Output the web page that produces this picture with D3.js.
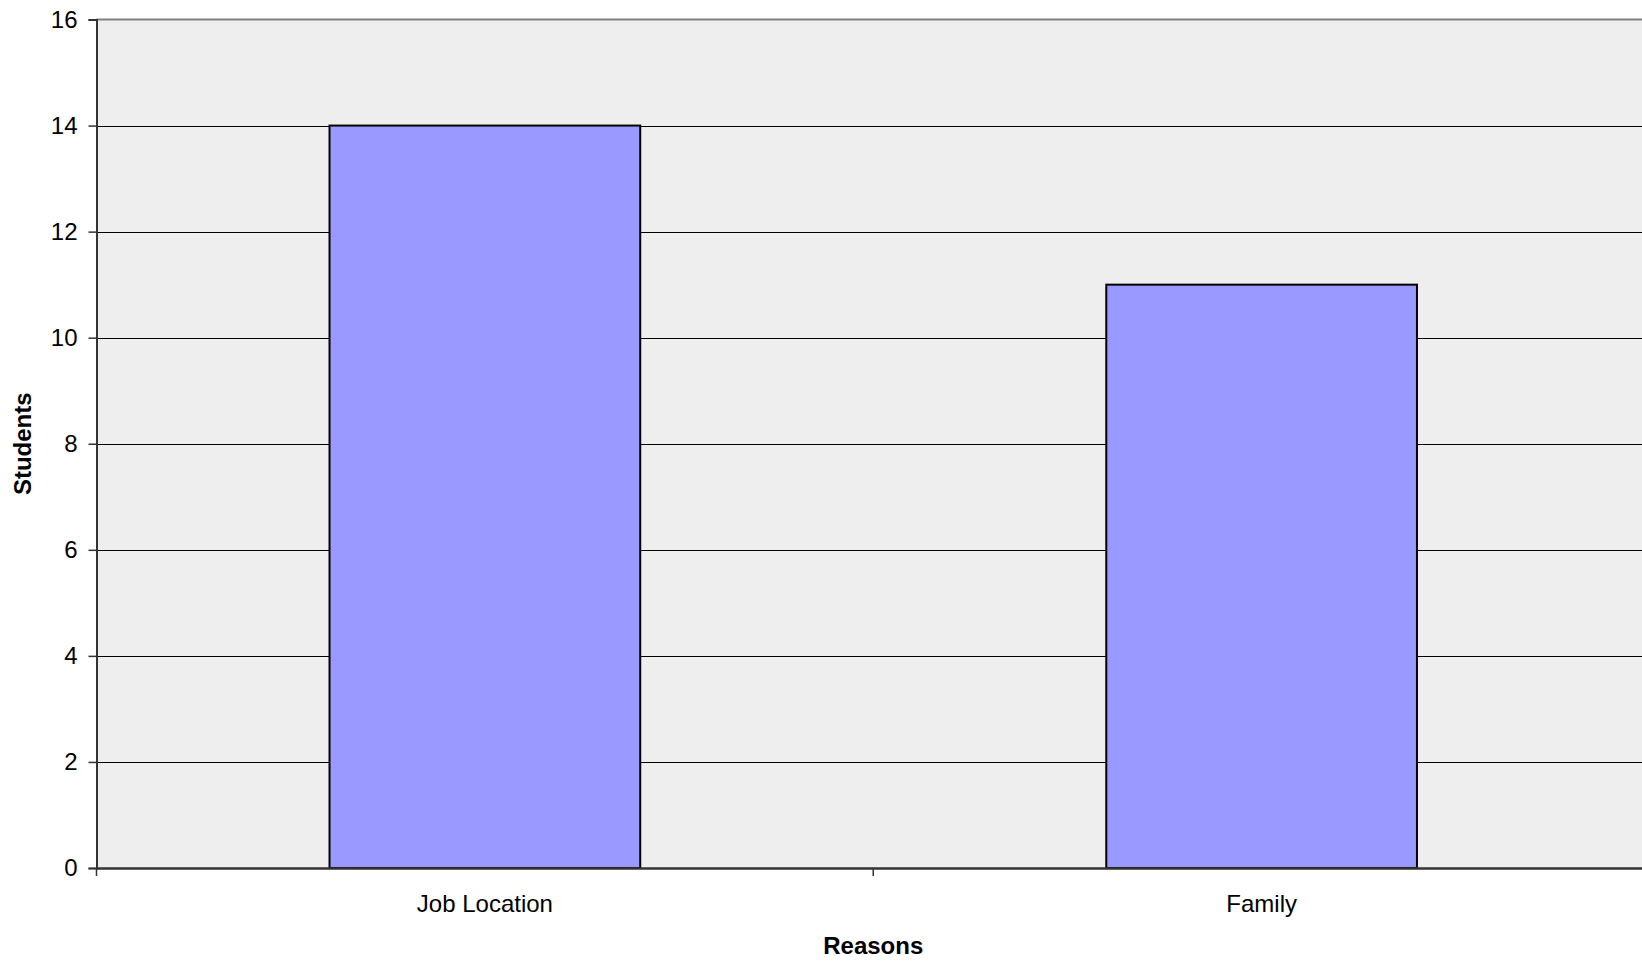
<!DOCTYPE html>
<html><head><meta charset="utf-8">
<script src="https://cdn.jsdelivr.net/npm/d3@7"></script>
<style>body{margin:0;background:#fff;overflow:hidden}text{font-family:"Liberation Sans",Arial,sans-serif;fill:#000}</style>
</head><body>
<svg id="c" width="1642" height="961"></svg>
<script>
const categories = ["Job Location", "Family"];
const values = [14, 11];
const yTicks = [0, 2, 4, 6, 8, 10, 12, 14, 16];
const xTitle = "Reasons";
const yTitle = "Students";

const svg = d3.select("#c");
const L = 96.5, R = 1650, T = 19.5, B = 868;
const x = d3.scaleBand().domain(categories).range([L, R]).paddingInner(0.6).paddingOuter(0.3);
const xb = d3.scaleBand().domain(categories).range([L, R]);
const y = d3.scaleLinear().domain([0, 16]).range([B, T]);

svg.append("rect").attr("x", L).attr("y", T).attr("width", R - L).attr("height", B - T).attr("fill", "#eeeeee");

// gridlines
svg.append("g").selectAll("line").data(yTicks.filter(d => d > 0 && d < 16)).join("line")
  .attr("x1", L).attr("x2", R).attr("y1", d => Math.round(y(d)) + 0.5).attr("y2", d => Math.round(y(d)) + 0.5)
  .attr("stroke", "#000").attr("stroke-width", 1);
// top border
svg.append("line").attr("x1", L).attr("x2", R).attr("y1", T).attr("y2", T).attr("stroke", "#808080").attr("stroke-width", 2);

// bars
svg.append("g").selectAll("rect").data(values).join("rect")
  .attr("x", (d, i) => x(categories[i])).attr("width", x.bandwidth())
  .attr("y", d => y(d)).attr("height", d => B - y(d))
  .attr("fill", "#9999ff").attr("stroke", "#000").attr("stroke-width", 2);

// y axis
const ya = svg.append("g").attr("transform", `translate(${L},0)`)
  .call(d3.axisLeft(y).tickValues(yTicks).tickSize(8).tickPadding(11).tickFormat(d3.format("d")));
ya.select(".domain").attr("stroke", "#333").attr("stroke-width", 2);
ya.selectAll(".tick line").attr("stroke", "#333").attr("stroke-width", 1.5);
ya.selectAll("text").style("font-size", "24px").style("font-family", "Liberation Sans, Arial, sans-serif").attr("fill", "#000");

// x axis
const xa = svg.append("g").attr("transform", `translate(0,${B})`)
  .call(d3.axisBottom(x).tickSize(0).tickPadding(27));
xa.select(".domain").attr("stroke", "#333").attr("stroke-width", 2.5);
xa.selectAll("text").style("font-size", "24px").style("font-family", "Liberation Sans, Arial, sans-serif").attr("fill", "#000");
// category separator ticks
const sepVals = [L].concat(categories.map(c => xb(c) + xb.bandwidth()));
svg.append("g").selectAll("line").data(sepVals).join("line")
  .attr("x1", d => d).attr("x2", d => d).attr("y1", B).attr("y2", B + 8)
  .attr("stroke", "#333").attr("stroke-width", 1.5);

svg.append("text").attr("x", (L + R) / 2).attr("y", 954).attr("text-anchor", "middle")
  .style("font-size", "24px").style("font-weight", "bold").text(xTitle);
svg.append("text").attr("transform", `translate(31,${(T + B) / 2}) rotate(-90)`).attr("text-anchor", "middle")
  .style("font-size", "24px").style("font-weight", "bold").text(yTitle);
</script>
</body></html>
